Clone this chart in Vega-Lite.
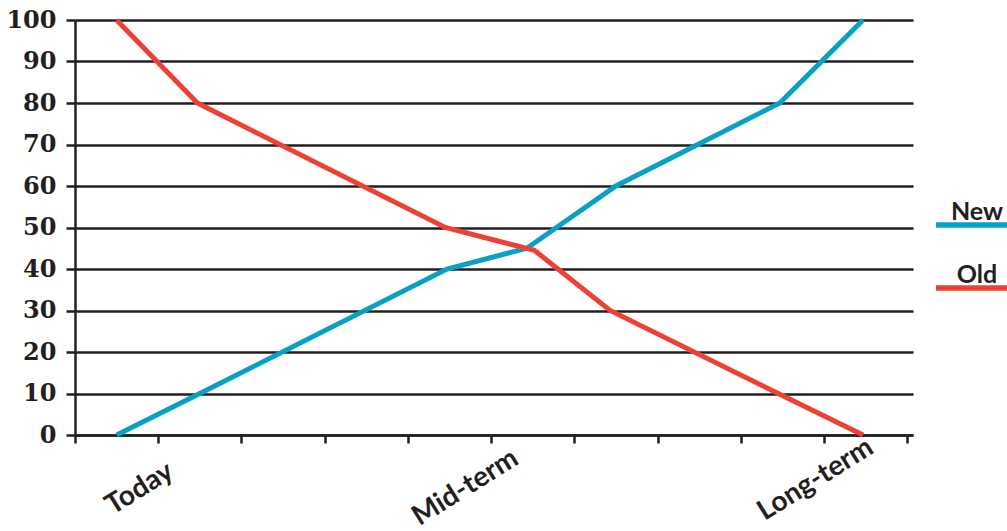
{
  "$schema": "https://vega.github.io/schema/vega-lite/v6.json",
  "width": 838,
  "height": 415,
  "autosize": {"type": "none"},
  "padding": {"left": 75, "top": 20, "right": 94, "bottom": 96},
  "background": "white",
  "data": {
    "values": [
      {"x": 0.5, "value": 0, "series": "New"},
      {"x": 1.5, "value": 10, "series": "New"},
      {"x": 4.47, "value": 40, "series": "New"},
      {"x": 5.43, "value": 45, "series": "New"},
      {"x": 6.5, "value": 60, "series": "New"},
      {"x": 8.47, "value": 80, "series": "New"},
      {"x": 9.47, "value": 100, "series": "New"},
      {"x": 0.5, "value": 100, "series": "Old"},
      {"x": 1.47, "value": 80, "series": "Old"},
      {"x": 4.45, "value": 50, "series": "Old"},
      {"x": 5.52, "value": 44.5, "series": "Old"},
      {"x": 6.43, "value": 30, "series": "Old"},
      {"x": 8.45, "value": 10, "series": "Old"},
      {"x": 9.47, "value": 0, "series": "Old"}
    ]
  },
  "mark": {"type": "line", "strokeWidth": 5},
  "encoding": {
    "x": {
      "field": "x",
      "type": "quantitative",
      "scale": {"domain": [0, 10.07], "nice": false, "zero": false},
      "axis": {
        "title": null,
        "values": [0, 1, 2, 3, 4, 5, 6, 7, 8, 9, 10],
        "grid": false,
        "domainColor": "#231f20",
        "domainWidth": 2.5,
        "tickColor": "#231f20",
        "tickWidth": 2.5,
        "tickSize": 8,
        "labelExpr": "datum.value == 1 ? 'Today' : datum.value == 5 ? 'Mid-term' : datum.value == 9 ? 'Long-term' : ''",
        "labelAngle": -32,
        "labelAlign": "right",
        "labelBaseline": "top",
        "labelFont": "Lato",
        "labelFontSize": 28,
        "labelFontWeight": "bold",
        "labelColor": "#231f20",
        "labelOverlap": false,
        "labelBound": false,
        "labelFlush": false,
        "labelOffset": {"condition": [{"test": "datum.value == 9", "value": 39}, {"test": "datum.value == 5", "value": 17}], "value": 5},
        "labelPadding": {"condition": [{"test": "datum.value == 9", "value": -10}, {"test": "datum.value == 5", "value": 1}], "value": 14}
      }
    },
    "y": {
      "field": "value",
      "type": "quantitative",
      "scale": {"domain": [0, 100], "nice": false},
      "axis": {
        "title": null,
        "values": [0, 10, 20, 30, 40, 50, 60, 70, 80, 90, 100],
        "grid": true,
        "gridColor": "#231f20",
        "gridWidth": 2.5,
        "gridOpacity": 1,
        "domainColor": "#231f20",
        "domainWidth": 2.5,
        "tickColor": "#231f20",
        "tickWidth": 2.5,
        "tickSize": 9,
        "labelFont": "DejaVu Serif",
        "labelFontSize": 24,
        "labelFontWeight": "bold",
        "labelColor": "#231f20",
        "labelPadding": 10,
        "labelOverlap": false,
        "labelBound": false,
        "labelFlush": false
      }
    },
    "color": {
      "field": "series",
      "type": "nominal",
      "scale": {"domain": ["New", "Old"], "range": ["#0aa0c6", "#ee4135"]},
      "legend": {
        "orient": "none",
        "legendX": 858,
        "legendY": 162,
        "title": null,
        "symbolType": "stroke",
        "symbolSize": 6400,
        "symbolStrokeWidth": 5.5,
        "labelFont": "Lato",
        "labelFontSize": 25,
        "labelFontWeight": "bold",
        "labelColor": "#231f20",
        "labelAlign": "center",
        "labelBaseline": "bottom",
        "labelOffset": -42,
        "rowPadding": 9
      }
    }
  },
  "config": {"view": {"stroke": null}}
}
